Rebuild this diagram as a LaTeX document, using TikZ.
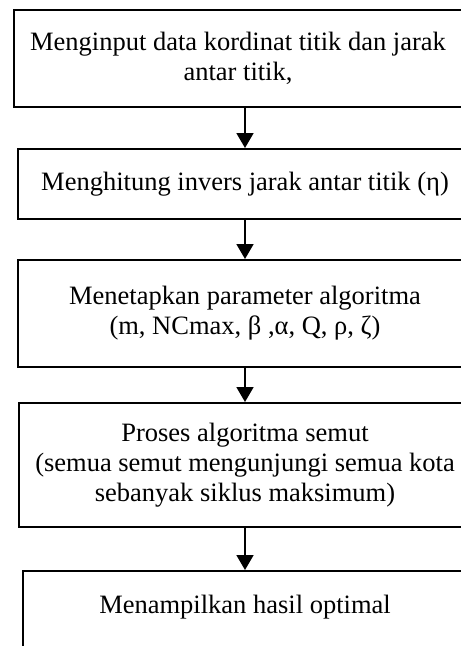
\documentclass[tikz,border=0pt]{standalone}
\usepackage{fontspec}
\setmainfont{Liberation Serif}
\usetikzlibrary{arrows.meta}
\begin{document}
\begin{tikzpicture}[x=1pt,y=-1pt]

    \tikzset{
      stepbox/.style={
        draw,
        line width=2pt,
        align=center,
        inner sep=0pt,
        font=\fontsize{26.5}{30}\selectfont,
      },
      flow/.style={
        line width=1.8pt,
        -{Triangle[width=17pt,length=15pt]},
      },
    }
    \useasboundingbox (0,0) rectangle (461,646);
    \clip (0,0) rectangle (461,646);

	\node[stepbox,minimum width=448,minimum height=97] (input) at (238,58.5) {Menginput data kordinat titik dan jarak\\antar titik,};
	\node[stepbox,minimum width=454,minimum height=70] (invers) at (245,184) {Menghitung invers jarak antar titik (η)};
	\node[stepbox,minimum width=454,minimum height=107] (param) at (245,313.5) {Menetapkan parameter algoritma\\(m, NCmax, β ,α, Q, ρ, ζ)};
	\node[stepbox,minimum width=452,minimum height=124] (semut) at (245,465) {Proses algoritma semut\\(semua semut mengunjungi semua kota\\sebanyak siklus maksimum)};
	\node[stepbox,minimum width=444,anchor=north,inner ysep=25pt,text height=17.5pt,text depth=60pt] (hasil) at (245,570) {Menampilkan hasil optimal};

	\draw[flow] (input.south -| invers.north)--(invers.north);
	\draw[flow] (invers.south)--(param.north);
	\draw[flow] (param.south)--(semut.north);
	\draw[flow] (semut.south)--(hasil.north);

\end{tikzpicture}
\end{document}
